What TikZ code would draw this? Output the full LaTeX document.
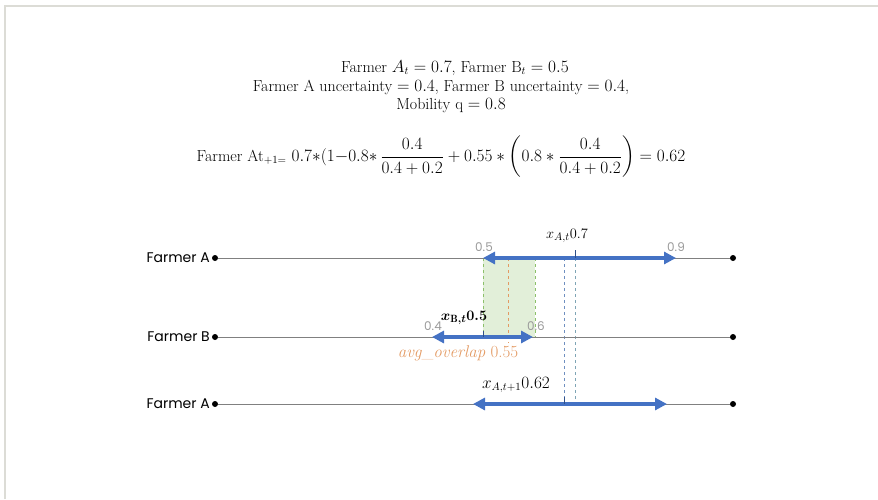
\documentclass[tikz,border=0pt]{standalone}
\usepackage{amsmath}
\usepackage{fontspec}
\newfontfamily\labfont{Poppins}
\usetikzlibrary{arrows.meta}
\definecolor{axisgray}{HTML}{808080}
\definecolor{ablue}{HTML}{4472C4}
\definecolor{gfill}{HTML}{E2EFD9}
\definecolor{gline}{HTML}{8CC06A}
\definecolor{oline}{HTML}{E39A63}
\definecolor{framec}{HTML}{DCDCD6}
\definecolor{tickgray}{HTML}{9A9A9A}
\definecolor{bdash}{HTML}{6F8FC0}
\definecolor{tdash}{HTML}{7FA5B5}
\tikzset{
  dot/.style={circle,fill=black,inner sep=0pt,minimum size=6pt},
  axisline/.style={draw=axisgray,line width=1pt},
  rowlabel/.style={font=\labfont\fontsize{14}{16}\selectfont,anchor=east,inner sep=0pt},
  bigarrow/.style={draw=ablue,line width=3.5pt,{Triangle[length=12pt,width=12pt]}-{Triangle[length=12pt,width=12pt]}},
  ticklab/.style={font=\labfont\fontsize{12}{13}\selectfont,text=tickgray,inner sep=0pt},
  midtick/.style={draw=ablue!70!black,line width=1pt},
  title/.style={font=\fontsize{16}{19}\selectfont,inner sep=0pt},
  vlab/.style={font=\fontsize{15}{18}\selectfont,inner sep=0pt},
}
\begin{document}
\begin{tikzpicture}[x=1pt,y=-1pt]
\useasboundingbox (0,0) rectangle (878,499);
% frame
\draw[framec,line width=1.5pt] (5,499) -- (5,6) -- (878,6);
% titles
\node[title] (t1) at (455,68) {Farmer $A_t=0.7$, Farmer $\mathrm{B}_t=0.5$};
\node[title] (t2) at (441,87) {Farmer A uncertainty $=0.4$, Farmer B uncertainty $=0.4$,};
\node[title] (t3) at (451,106) {Mobility q $=0.8$};
\node[title] (t4) at (441,157) {Farmer At$_{+1=}$ $0.7{\ast}(1{-}0.8{\ast}\,\dfrac{0.4}{0.4+0.2}+0.55\ast\left(0.8\ast\dfrac{0.4}{0.4+0.2}\right)=0.62$};
% green overlap
\fill[gfill] (483,259) rectangle (535,337);
\draw[gline,dashed,line width=0.6pt] (483,258) -- (483,337);
\draw[gline,dashed,line width=0.6pt] (535,258) -- (535,337);
\draw[oline,dashed,line width=0.6pt] (508,258) -- (508,343);
\draw[bdash,dashed,line width=0.6pt] (564,258) -- (564,404);
\draw[tdash,dashed,line width=0.6pt] (575,258) -- (575,404);
% rows
\node[dot] (a1l) at (215,258) {};
\node[dot] (a1r) at (733,258) {};
\node[dot] (b1l) at (215,337) {};
\node[dot] (b1r) at (733,337) {};
\node[dot] (a2l) at (215,404) {};
\node[dot] (a2r) at (733,404) {};
\draw[axisline] (a1l) -- (a1r);
\draw[axisline] (b1l) -- (b1r);
\draw[axisline] (a2l) -- (a2r);
\node[rowlabel] (la1) at (210,258) {Farmer A};
\node[rowlabel] (lb1) at (210,337) {Farmer B};
\node[rowlabel] (la2) at (210,404) {Farmer A};
% row 1 interval
\coordinate (r1s) at (483,258);
\coordinate (r1e) at (676,258);
\draw[bigarrow] (r1s) -- (r1e);
\draw[midtick] (575,250) -- (575,258);
\node[ticklab] (l05) at (484,247) {0.5};
\node[ticklab] (l09) at (676,247) {0.9};
\node[vlab] (xa) at (567,236) {$x_{A,t}0.7$};
% row 2 interval
\coordinate (r2s) at (432,337);
\coordinate (r2e) at (533,337);
\draw[bigarrow] (r2s) -- (r2e);
\draw[midtick] (483,331) -- (483,337);
\node[ticklab] (l04) at (433,326) {0.4};
\node[ticklab] (l06) at (536,326) {0.6};
\node[vlab] (xb) at (464,318) {$\boldsymbol{x_{\mathrm{B},t}0.5}$};
\node[vlab,text=oline,font=\fontsize{17}{19}\selectfont] (ov) at (458,353) {$\mathit{avg\_overlap}$ 0.55};
% row 3 interval
\coordinate (r3s) at (473,404);
\coordinate (r3e) at (667,404);
\draw[bigarrow] (r3s) -- (r3e);
\draw[midtick] (564,397) -- (564,404);
\node[vlab,font=\fontsize{16}{18}\selectfont] (xa2) at (516,385) {$x_{A,t+1}0.62$};
\end{tikzpicture}
\end{document}
